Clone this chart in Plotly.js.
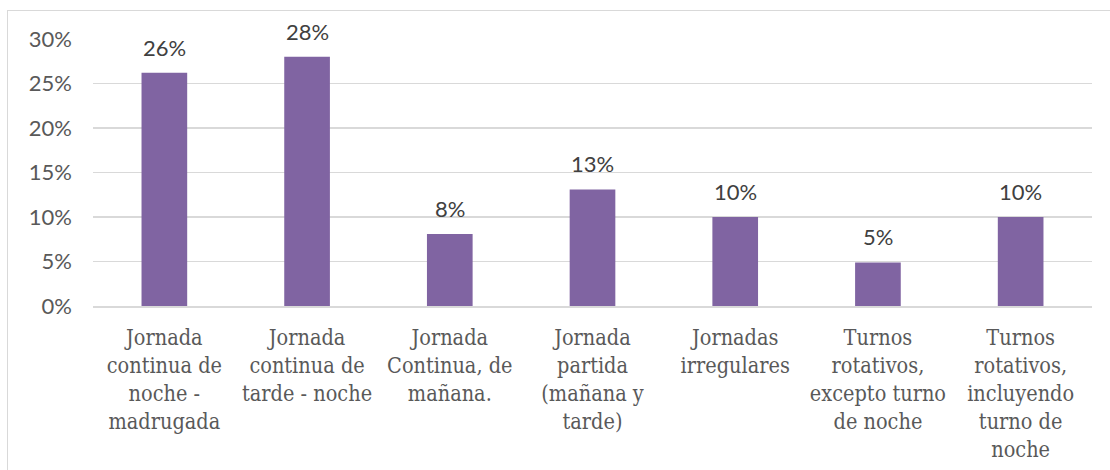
<!DOCTYPE html>
<html>
<head>
<meta charset="utf-8">
<script src="https://cdn.plot.ly/plotly-3.0.1.min.js"></script>
<style>
  html, body { margin: 0; padding: 0; background: #fff; overflow: hidden; }
  #wrap { position: relative; width: 1110px; height: 470px; }
  #frame { position: absolute; left: 7px; top: 10px; width: 1200px; height: 600px; border: 1.5px solid #d9d9d9; box-sizing: border-box; pointer-events: none; }
  #chart { position: absolute; left: 0; top: 0; width: 1110px; height: 470px; }
</style>
</head>
<body>
<div id="wrap">
  <div id="frame"></div>
  <div id="chart"></div>
</div>
<script>
const categories = [
  "Jornada<br>continua de<br>noche -<br>madrugada",
  "Jornada<br>continua de<br>tarde - noche",
  "Jornada<br>Continua, de<br>mañana.",
  "Jornada<br>partida<br>(mañana y<br>tarde)",
  "Jornadas<br>irregulares",
  "Turnos<br>rotativos,<br>excepto turno<br>de noche",
  "Turnos<br>rotativos,<br>incluyendo<br>turno de<br>noche"
];
const values = [0.262, 0.280, 0.081, 0.131, 0.100, 0.049, 0.100];
const tickValues = [0, 0.05, 0.10, 0.15, 0.20, 0.25, 0.30];
const tickLabels = ["0%", "5%", "10%", "15%", "20%", "25%", "30%"];

const barColor = "#8064a2";
const textColor = "#595959";
const labelFont = "Lato, 'Open Sans', sans-serif";
const catFont = "'DejaVu Serif Condensed', 'DejaVu Serif', serif";

const trace = {
  type: "bar",
  x: categories,
  y: values,
  marker: { color: barColor },
  hoverinfo: "skip"
};

const annotations = values.map((v, i) => ({
  x: categories[i],
  y: v,
  xref: "x",
  yref: "y",
  text: Math.round(v * 100) + "%",
  showarrow: false,
  yanchor: "bottom",
  yshift: 10,
  font: { family: labelFont, size: 22, color: "#404040" }
}));

const layout = {
  width: 1110,
  height: 470,
  margin: { l: 93, r: 18, t: 39, b: 164 },
  paper_bgcolor: "rgba(0,0,0,0)",
  plot_bgcolor: "rgba(0,0,0,0)",
  showlegend: false,
  bargap: 0.68,
  xaxis: {
    type: "category",
    tickfont: { family: catFont, size: 21.5, color: textColor },
    tickangle: 0,
    showgrid: false,
    showline: true,
    linecolor: "#d9d9d9",
    linewidth: 1.5,
    ticks: "",
    ticklabelstandoff: 12,
    automargin: false
  },
  yaxis: {
    range: [0, 0.30],
    tickvals: tickValues,
    ticktext: tickLabels,
    tickfont: { family: labelFont, size: 22, color: textColor },
    showgrid: true,
    gridcolor: "#d9d9d9",
    gridwidth: 1.5,
    zeroline: false,
    showline: false,
    ticks: "",
    ticklabelstandoff: 20,
    automargin: false
  },
  annotations: annotations
};

Plotly.newPlot("chart", [trace], layout, { displayModeBar: false, staticPlot: true });
</script>
</body>
</html>
